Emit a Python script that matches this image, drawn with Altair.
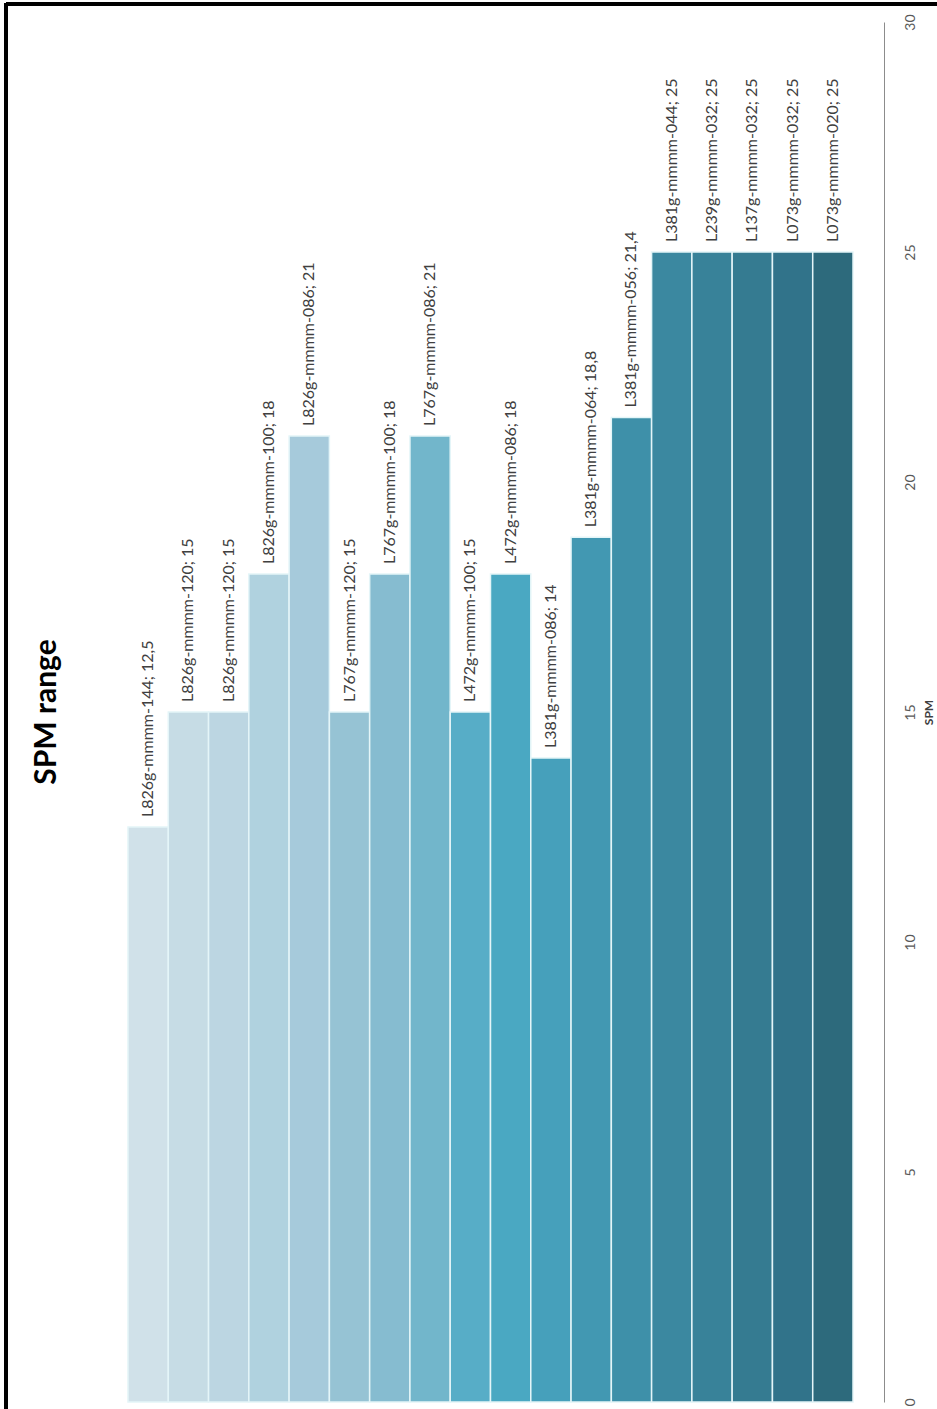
import altair as alt
import pandas as pd

names = [
    "L826g-mmmm-144", "L826g-mmmm-120", "L826g-mmmm-120", "L826g-mmmm-100",
    "L826g-mmmm-086", "L767g-mmmm-120", "L767g-mmmm-100", "L767g-mmmm-086",
    "L472g-mmmm-100", "L472g-mmmm-086", "L381g-mmmm-086", "L381g-mmmm-064",
    "L381g-mmmm-056", "L381g-mmmm-044", "L239g-mmmm-032", "L137g-mmmm-032",
    "L073g-mmmm-032", "L073g-mmmm-020",
]
spm = [12.5, 15, 15, 18, 21, 15, 18, 21, 15, 18, 14, 18.8, 21.4, 25, 25, 25, 25, 25]
ticks = [0, 5, 10, 15, 20, 25, 30]

palette = [
    "#d0e1e9", "#c6dce5", "#bcd6e2", "#b0d2df", "#a6cadb", "#96c3d4",
    "#86bcd0", "#72b6cb", "#57adc7", "#4aa8c2", "#46a0bb", "#4298b2",
    "#3e90a9", "#3b88a0", "#388299", "#357b91", "#31738a", "#2d6a7c",
]


def fmt(v):
    s = f"{v:g}"
    return s.replace(".", ",")


idx = list(range(len(names)))
df = pd.DataFrame({
    "idx": idx,
    "name": names,
    "spm": spm,
    "label": [f"{n}; {fmt(v)}" for n, v in zip(names, spm)],
})

x_enc = alt.X("idx:O", axis=None,
              scale=alt.Scale(paddingInner=0, paddingOuter=0))
y_scale = alt.Scale(domain=[0, 30], nice=False, zero=True)

bars = alt.Chart(df).mark_bar(stroke="#e4f5f8", strokeWidth=1.5).encode(
    x=x_enc,
    y=alt.Y("spm:Q", scale=y_scale,
            axis=alt.Axis(orient="right", offset=31, values=ticks, grid=False,
                          ticks=False, domainColor="#8c8c8c", domainWidth=1,
                          labelAngle=270, labelFontSize=14, labelColor="#595959",
                          labelFont="Lato", labelPadding=19, labelFlush=False,
                          labelOverlap=False, title="SPM", titleAngle=270,
                          titleFont="Lato", titleFontSize=12, titleColor="#404040",
                          titleFontWeight="bold", titlePadding=18)),
    color=alt.Color("idx:O", scale=alt.Scale(domain=idx, range=palette), legend=None),
)

labels = alt.Chart(df).mark_text(
    angle=270, align="left", baseline="middle", dx=10,
    font="Lato", fontSize=16, color="#404040",
).encode(
    x=x_enc,
    y=alt.Y("spm:Q", scale=y_scale),
    text="label:N",
)

border_left = alt.Chart(df).mark_rule(color="black", strokeWidth=2.5).encode(
    x=alt.value(-122), y=alt.value(-19), y2=alt.value(1400)
)
border_top = alt.Chart(df).mark_rule(color="black", strokeWidth=2.5).encode(
    x=alt.value(-122), x2=alt.value(820), y=alt.value(-18)
)

chart = alt.layer(bars, labels, border_left, border_top).properties(
    width=725,
    height=1380,
    autosize=alt.AutoSizeParams(type="none"),
    padding={"left": 128, "top": 22, "right": 84, "bottom": 7},
    title=alt.TitleParams("SPM range", orient="left", anchor="middle",
                          font="Lato", fontSize=30, fontWeight="bold",
                          color="black", offset=-57),
).configure_view(stroke=None)

chart.save("out.html", embed_options={"renderer": "svg", "actions": False})
